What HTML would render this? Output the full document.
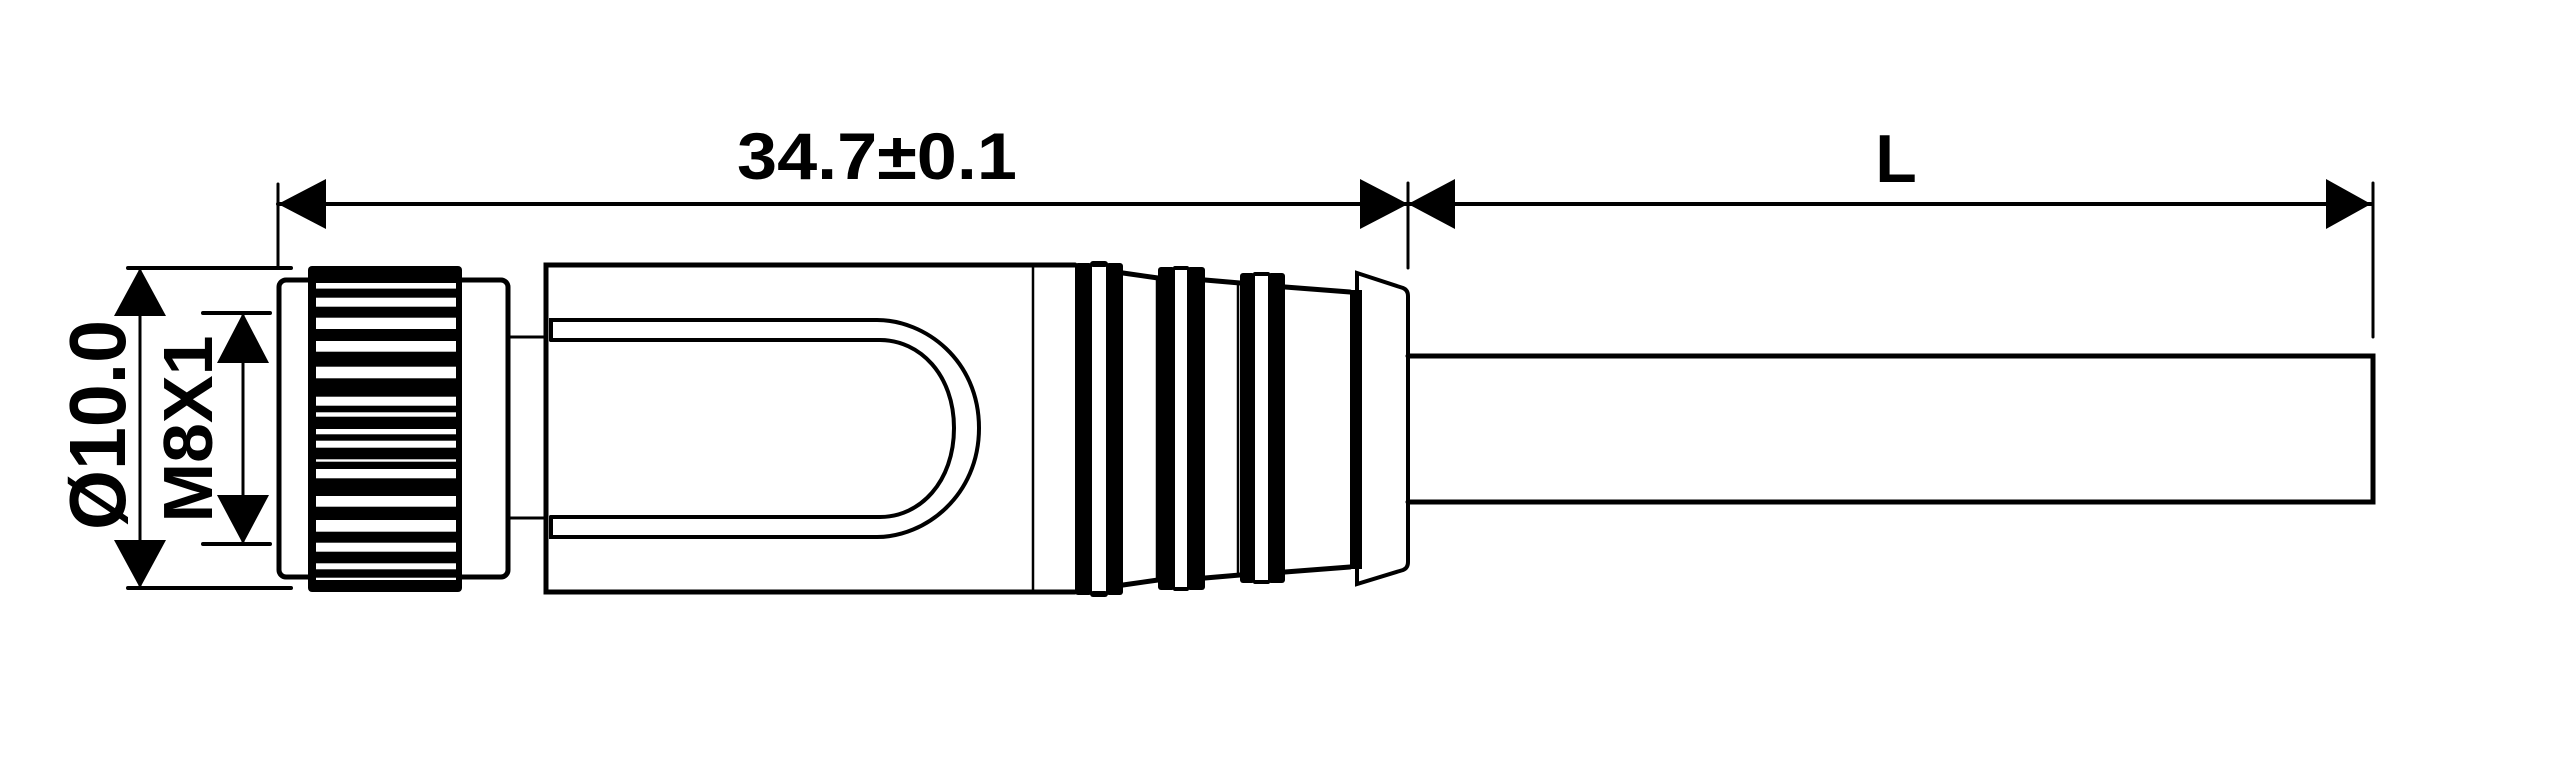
<!DOCTYPE html>
<html><head><meta charset="utf-8"><style>
html,body{margin:0;padding:0;background:#fff;}
svg{display:block;}
text{font-family:"Liberation Sans",sans-serif;font-weight:bold;fill:#000;}
</style></head><body>
<svg width="2560" height="777" viewBox="0 0 2560 777" xmlns="http://www.w3.org/2000/svg">
<g stroke="#000" fill="none" stroke-linecap="round">
 <!-- top dimension -->
 <line x1="278" y1="204" x2="2371" y2="204" stroke-width="4"/>
 <line x1="278" y1="184" x2="278" y2="268" stroke-width="3"/>
 <line x1="1408" y1="183" x2="1408" y2="268" stroke-width="3"/>
 <line x1="2373" y1="183" x2="2373" y2="337" stroke-width="3"/>
 <!-- dia dims -->
 <line x1="128" y1="268" x2="291" y2="268" stroke-width="4"/>
 <line x1="128" y1="588" x2="291" y2="588" stroke-width="4"/>
 <line x1="140" y1="268" x2="140" y2="588" stroke-width="3"/>
 <line x1="203" y1="313" x2="270" y2="313" stroke-width="4"/>
 <line x1="203" y1="544" x2="270" y2="544" stroke-width="4"/>
 <line x1="243" y1="313" x2="243" y2="544" stroke-width="3"/>
 <!-- nut frame -->
 <rect x="279" y="280" width="229" height="297" rx="7" stroke-width="5"/>
 <line x1="508" y1="337" x2="544" y2="337" stroke-width="3"/>
 <line x1="508" y1="518" x2="544" y2="518" stroke-width="3"/>
 <!-- body -->
 <path d="M1075 265 L546 265 L546 592 L1075 592" stroke-width="5"/>
 <line x1="1033" y1="265" x2="1033" y2="592" stroke-width="2.5"/>
 <!-- U loop -->
 <path d="M551 340 L551 320 L877 320 C925 320 979 360 979 428 C979 496 925 537 877 537 L551 537 L551 517" stroke-width="4"/>
 <path d="M551 340 L880 340 C920 340 954 375 954 428 C954 482 920 517 880 517 L551 517" stroke-width="4"/>
 <!-- ring segments top/bottom edges -->
 <path d="M1123 273 L1158 278 M1205 280 L1240 283 M1285 287 L1350 292" stroke-width="5"/>
 <path d="M1123 585 L1158 580 M1205 578 L1240 575 M1285 572 L1350 567" stroke-width="5"/>
 <line x1="1157" y1="278" x2="1157" y2="580" stroke-width="2.5"/>
 <line x1="1238" y1="283" x2="1238" y2="575" stroke-width="2.5"/>
 <!-- cone -->
 <path d="M1357 273 L1403 288 Q1408 290 1408 296 L1408 562 Q1408 568 1403 570 L1357 584 Z" stroke-width="4"/>
 <!-- cable -->
 <path d="M1408 356 L2373 356 L2373 502 L1408 502" stroke-width="5"/>
</g>
<g fill="#000">
 <!-- arrows -->
 <polygon points="278,204 326,179 326,229"/>
 <polygon points="1408,204 1360,179 1360,229"/>
 <polygon points="1408,204 1455,179 1455,229"/>
 <polygon points="2371,204 2326,179 2326,229"/>
 <polygon points="140,268 114,316 166,316"/>
 <polygon points="140,588 114,540 166,540"/>
 <polygon points="243,313 217,363 269,363"/>
 <polygon points="243,544 217,495 269,495"/>
 <!-- knurl block -->
 <rect x="308" y="266" width="154" height="326" rx="4"/>
 <!-- ring bands -->
 <rect x="1075" y="263" width="17" height="332" rx="3"/>
 <rect x="1106" y="263" width="17" height="332" rx="3"/>
 <rect x="1090" y="261" width="18" height="6" rx="3"/>
 <rect x="1090" y="591" width="18" height="6" rx="3"/>
 <rect x="1158" y="267" width="17" height="323" rx="3"/>
 <rect x="1187" y="267" width="18" height="323" rx="3"/>
 <rect x="1173" y="266" width="16" height="5" rx="2"/>
 <rect x="1173" y="586" width="16" height="5" rx="2"/>
 <rect x="1240" y="273" width="15" height="310" rx="3"/>
 <rect x="1268" y="273" width="17" height="310" rx="3"/>
 <rect x="1253" y="272" width="17" height="5" rx="2"/>
 <rect x="1253" y="579" width="17" height="5" rx="2"/>
 <rect x="1350" y="290" width="12" height="279"/>
</g>
<g fill="#fff">
 <rect x="316" y="283" width="140" height="5.6"/>
 <rect x="316" y="297.7" width="140" height="9"/>
 <rect x="316" y="317.7" width="140" height="11.3"/>
 <rect x="316" y="341" width="140" height="10.7"/>
 <rect x="316" y="366.7" width="140" height="11.6"/>
 <rect x="316" y="396.7" width="140" height="9"/>
 <rect x="316" y="412.3" width="140" height="4.4"/>
 <rect x="316" y="429" width="140" height="5.3"/>
 <rect x="316" y="440.7" width="140" height="7"/>
 <rect x="316" y="459.3" width="140" height="2.4"/>
 <rect x="316" y="469" width="140" height="9.3"/>
 <rect x="316" y="496" width="140" height="10.7"/>
 <rect x="316" y="520" width="140" height="11.7"/>
 <rect x="316" y="542.7" width="140" height="9"/>
 <rect x="316" y="563.3" width="140" height="6"/>
 <rect x="316" y="577.7" width="140" height="2.3"/>
 <rect x="1093" y="267" width="13" height="324"/>
 <rect x="1175" y="270" width="12" height="317"/>
 <rect x="1255" y="276" width="13" height="304"/>
</g>
<text x="877" y="179" font-size="66" text-anchor="middle" textLength="280" lengthAdjust="spacingAndGlyphs">34.7±0.1</text>
<text x="1896" y="182" font-size="68" text-anchor="middle">L</text>
<text transform="translate(125,425) rotate(-90)" font-size="80" text-anchor="middle" textLength="210" lengthAdjust="spacingAndGlyphs">Ø10.0</text>
<text transform="translate(212,429) rotate(-90)" font-size="70" text-anchor="middle" textLength="187" lengthAdjust="spacingAndGlyphs">M8X1</text>
</svg>
</body></html>
